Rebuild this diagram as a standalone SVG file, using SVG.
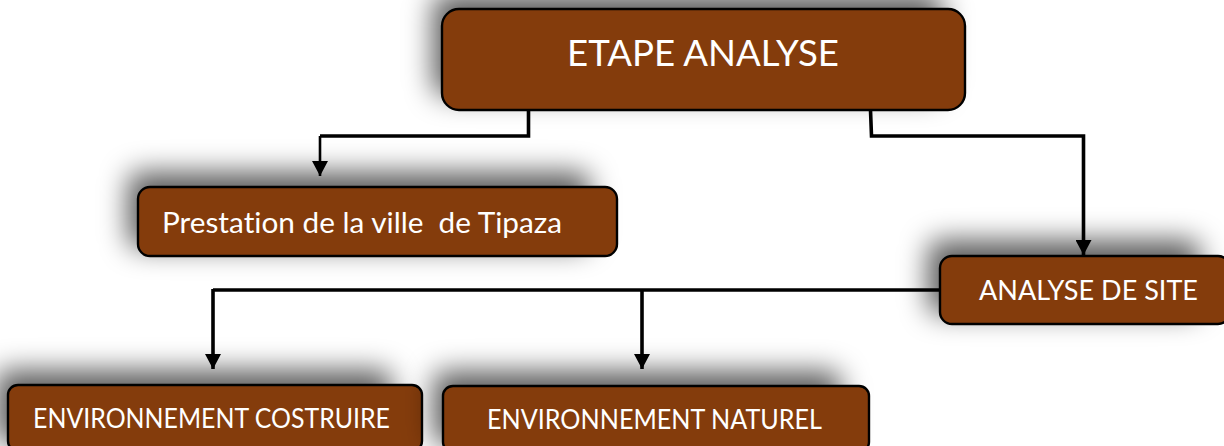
<svg xmlns="http://www.w3.org/2000/svg" width="1224" height="446" viewBox="0 0 1224 446">
<style>
.box{fill:#843c0c;stroke:#000;stroke-width:2.4}
.sh{fill:#000;fill-opacity:.64;filter:url(#blur)}
.t{font-family:Lato,"Open Sans","Liberation Sans",sans-serif;fill:#fff;font-variant-ligatures:none}
.c{fill:none;stroke:#000;stroke-width:3.6}
.c2{fill:none;stroke:#000;stroke-width:2.6}
</style>
<defs>
<filter id="blur" x="-20%" y="-80%" width="140%" height="260%"><feGaussianBlur stdDeviation="14"/></filter>
<marker id="arr" markerUnits="userSpaceOnUse" markerWidth="16" markerHeight="16" refX="15" refY="8" orient="auto"><path d="M0 0L15 8L0 16Z" fill="#000"/></marker>
</defs>
<rect width="1224" height="446" fill="#fff"/>
<g id="node-etape"><rect class="sh" x="433" y="-6" width="510" height="102" rx="14"/><rect class="box" x="442" y="9" width="523" height="101" rx="17"/><text class="t" x="567" y="66" font-size="36" textLength="272" lengthAdjust="spacingAndGlyphs">ETAPE ANALYSE</text></g>
<g id="node-prestation"><rect class="sh" x="128" y="172" width="462" height="76" rx="12"/><rect class="box" x="138" y="187" width="479" height="69" rx="12"/><text class="t" x="162" y="233" font-size="28" textLength="400" lengthAdjust="spacingAndGlyphs" xml:space="preserve">Prestation de la ville  de Tipaza</text></g>
<g id="node-site"><rect class="sh" x="928" y="240" width="272" height="74" rx="12"/><rect class="box" x="940" y="256" width="290" height="68" rx="12"/><text class="t" x="979" y="300" font-size="27" textLength="219" lengthAdjust="spacingAndGlyphs">ANALYSE DE SITE</text></g>
<g id="node-costruire"><rect class="sh" x="-4" y="370" width="396" height="74" rx="12"/><rect class="box" x="8" y="385" width="414" height="66" rx="10"/><text class="t" x="33" y="428" font-size="27" textLength="357" lengthAdjust="spacingAndGlyphs">ENVIRONNEMENT COSTRUIRE</text></g>
<g id="node-naturel"><rect class="sh" x="433" y="371" width="408" height="74" rx="12"/><rect class="box" x="443" y="386" width="426" height="66" rx="10"/><text class="t" x="487" y="429" font-size="27" textLength="335" lengthAdjust="spacingAndGlyphs">ENVIRONNEMENT NATUREL</text></g>
<g id="connectors">
<path class="c" d="M528.500 110V136H320"/>
<path class="c2" d="M320 136V176" marker-end="url(#arr)"/>
<path class="c" d="M870.500 110L871.500 136H1083.500V255" marker-end="url(#arr)"/>
<path class="c" d="M940 290H213"/>
<path class="c" d="M213 289V369" marker-end="url(#arr)"/>
<path class="c" d="M642 290V369" marker-end="url(#arr)"/>
</g>
</svg>
